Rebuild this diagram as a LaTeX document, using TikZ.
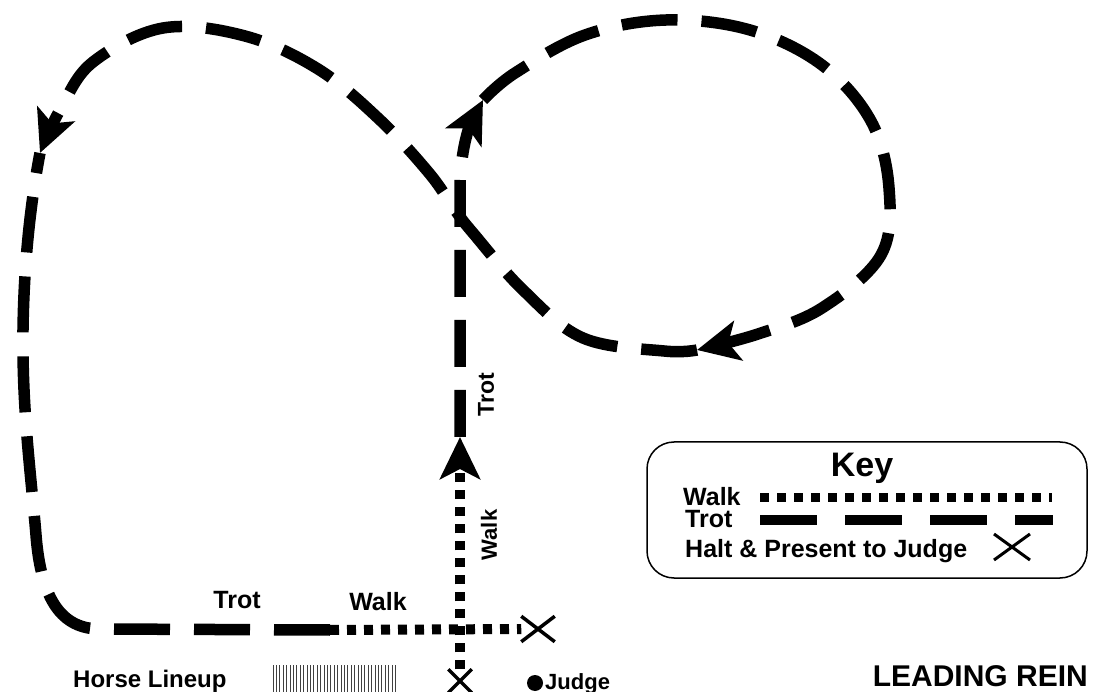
\documentclass[tikz,border=0pt]{standalone}
\usepackage{fontspec}
\setmainfont{Liberation Sans}
\usetikzlibrary{arrows.meta,shapes.misc}

\tikzset{
  trot/.style={line width=11.5pt,dash pattern=on 56pt off 24pt},
  walk/.style={line width=10pt,dash pattern=on 9pt off 8pt},
  head/.style={-{Stealth[length=42pt,width=40pt,inset=10pt]}},
  halt/.style={draw,cross out,line width=3.5pt,inner sep=0pt},
  lbl/.style={font=\fontsize{25}{30}\selectfont\bfseries,inner sep=0pt},
}

\begin{document}
\begin{tikzpicture}[x=1pt,y=-1pt]
		\useasboundingbox (0,0) rectangle (1093,692);
		% halts
		\node[halt,minimum width=20pt,minimum height=20pt] (halt1) at (460,681) {};
		\node[halt,minimum width=30pt,minimum height=22pt] (halt2) at (538,629) {};
		\coordinate (up) at (460,437);
		\coordinate (toptip) at (483,100);
		\coordinate (looptip) at (697,350);
		\coordinate (lefttip) at (40,153);
		\coordinate (bend) at (330,630);
		% the route
		\draw[walk,head] (halt1.north) -- (up);
		\draw[trot,dash pattern=on 47pt off 23pt,head] (up) -- (460,190) .. controls (460,150) and (470,125) .. (toptip);
		\draw[trot,head] plot[smooth,tension=0.6] coordinates {(toptip) (515,73) (585,35) (666,20) (750,30) (822,65) (871,121) (889,188) (881,255) (822,308) (758,334) (looptip)};
		\draw[trot,head] plot[smooth,tension=0.6] coordinates {(looptip) (664,351) (583,338) (523,290) (473,233) (455,210) (429,173) (379,119) (318,69) (245,36) (163,28) (93,62) (61,108) (lefttip)};
		\draw[trot] (bend) -- (100,629) .. controls (62,629) and (41,600) .. (36,535)
			.. controls (31,475) and (22,410) .. (23,330) .. controls (24,255) and (32,195) .. (lefttip);
		\draw[walk] (bend) -- (halt2.west);
		% labels on the route
		\node[lbl,anchor=base] (trot1) at (237,608) {Trot};
		\node[lbl,anchor=base] (walk1) at (378,610) {Walk};
		\node[lbl,rotate=90,font=\fontsize{23}{28}\selectfont\bfseries] (trot2) at (486,395) {Trot};
		\node[lbl,rotate=90,font=\fontsize{22}{26}\selectfont\bfseries] (walk2) at (489,535) {Walk};
		% lineup and judge
		\node[lbl,anchor=base west,font=\fontsize{24}{28}\selectfont\bfseries] (lineup) at (73,687) {Horse Lineup};
		\foreach \x in {273,276.4,...,397} \draw[line width=1pt,black!75] (\x,665) -- (\x,692);
		\node[circle,fill,inner sep=0pt,minimum size=16pt] (judge) at (535,683) {};
		\node[lbl,anchor=base west,font=\fontsize{22}{26}\selectfont\bfseries] (judgetxt) at (545,689) {Judge};
		\node[lbl,anchor=base east,font=\fontsize{30}{34}\selectfont\bfseries] (title) at (1088,686) {LEADING REIN};
		% key
		\node[draw,line width=1.5pt,rounded corners=27pt,minimum width=440pt,minimum height=136pt] (keybox) at (867,510) {};
		\node[font=\fontsize{34}{38}\selectfont\bfseries,anchor=base] (keytitle) at (862,477) {Key};
		\node[lbl,anchor=base west] (kwalk) at (683,505) {Walk};
		\node[lbl,anchor=base west] (ktrot) at (685,528) {Trot};
		\node[lbl,anchor=base west] (khalt) at (685,557) {Halt \& Present to Judge};
		\node[halt,line width=3pt,minimum width=33pt,minimum height=23pt] (kx) at (1012,547) {};
		\draw[walk,line width=9pt] (760,498) -- (1052,498);
		\draw[trot,line width=10pt,dash pattern=on 57pt off 28pt] (760,520) -- (1053,520);
	\end{tikzpicture}
\end{document}
